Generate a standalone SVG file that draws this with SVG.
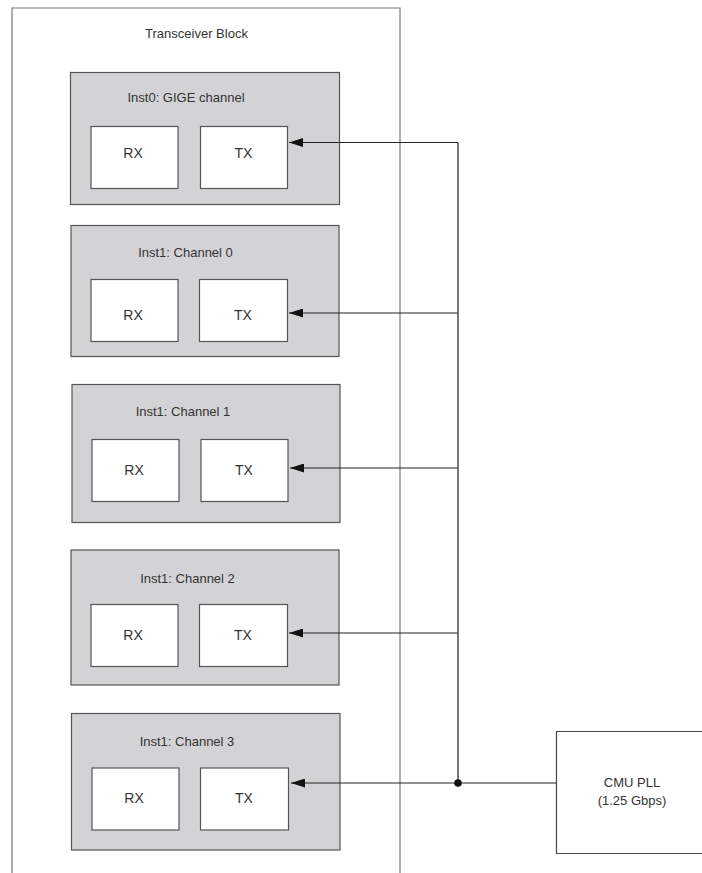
<svg xmlns="http://www.w3.org/2000/svg" width="702" height="873" viewBox="0 0 702 873">
<style>
text{font-family:"Liberation Sans",Arial,sans-serif;font-size:13px;fill:#333;text-anchor:middle}
.lbl{font-size:14px}
.outer{fill:none;stroke:#777;stroke-width:1.2}
.ch{fill:#d3d3d5;stroke:#555;stroke-width:1.2}
.sub{fill:#fff;stroke:#555;stroke-width:1.2}
.wire{fill:none;stroke:#222;stroke-width:1.2}
.pll{fill:#fff;stroke:#444;stroke-width:1.2}
</style>
<defs>
<marker id="ah" viewBox="0 0 14 9" refX="14" refY="4.5" markerWidth="14" markerHeight="9" markerUnits="userSpaceOnUse" orient="auto">
<path d="M0,0 L14,4.5 L0,9 Z" fill="#111"/>
</marker>
</defs>
<rect width="702" height="873" fill="#fff"/>
<g id="transceiver-block">
<path class="outer" d="M12,873 V8 H400 V873"/>
<text x="196.5" y="38">Transceiver Block</text>
</g>
<g id="inst0">
<rect class="ch" x="70.5" y="72.5" width="269" height="132"/>
<text x="186" y="102">Inst0: GIGE channel</text>
<g id="inst0-rx"><rect class="sub" x="91" y="126.5" width="87" height="62"/><text class="lbl" x="133" y="158">RX</text></g>
<g id="inst0-tx"><rect class="sub" x="200.5" y="126.5" width="87" height="62"/><text class="lbl" x="243.5" y="158">TX</text></g>
</g>
<g id="inst1-ch0">
<rect class="ch" x="71" y="225.5" width="268" height="131"/>
<text x="185.5" y="257">Inst1: Channel 0</text>
<g id="ch0-rx"><rect class="sub" x="91" y="279.5" width="87" height="62"/><text class="lbl" x="133" y="320">RX</text></g>
<g id="ch0-tx"><rect class="sub" x="199.5" y="279.5" width="88" height="62"/><text class="lbl" x="243" y="320">TX</text></g>
</g>
<g id="inst1-ch1">
<rect class="ch" x="72" y="384.5" width="268" height="138"/>
<text x="183" y="416">Inst1: Channel 1</text>
<g id="ch1-rx"><rect class="sub" x="92" y="439.5" width="87" height="62"/><text class="lbl" x="134" y="475">RX</text></g>
<g id="ch1-tx"><rect class="sub" x="201" y="439.5" width="87" height="62"/><text class="lbl" x="244" y="475">TX</text></g>
</g>
<g id="inst1-ch2">
<rect class="ch" x="71" y="550" width="268" height="135"/>
<text x="187.5" y="583">Inst1: Channel 2</text>
<g id="ch2-rx"><rect class="sub" x="91" y="604.5" width="87" height="62"/><text class="lbl" x="133" y="640">RX</text></g>
<g id="ch2-tx"><rect class="sub" x="199.5" y="604.5" width="88" height="62"/><text class="lbl" x="243" y="640">TX</text></g>
</g>
<g id="inst1-ch3">
<rect class="ch" x="71.5" y="713.5" width="268.5" height="136.5"/>
<text x="187" y="746">Inst1: Channel 3</text>
<g id="ch3-rx"><rect class="sub" x="92" y="768" width="87" height="62"/><text class="lbl" x="134" y="803">RX</text></g>
<g id="ch3-tx"><rect class="sub" x="200.5" y="768" width="88" height="62"/><text class="lbl" x="244" y="803">TX</text></g>
</g>
<g id="cmu-pll">
<path class="pll" d="M702,731.5 H556.5 V853.5 H702"/>
<text x="632" y="787">CMU PLL</text>
<text x="632" y="805">(1.25 Gbps)</text>
</g>
<g id="connectors">
<path class="wire" d="M458,142.5 V783"/>
<path class="wire" d="M458,142.5 H289" marker-end="url(#ah)"/>
<path class="wire" d="M458,313 H289" marker-end="url(#ah)"/>
<path class="wire" d="M458,468 H290" marker-end="url(#ah)"/>
<path class="wire" d="M458,633 H289" marker-end="url(#ah)"/>
<path class="wire" d="M556,783 H291" marker-end="url(#ah)"/>
<circle cx="458" cy="783" r="3.8" fill="#111"/>
</g>
</svg>
